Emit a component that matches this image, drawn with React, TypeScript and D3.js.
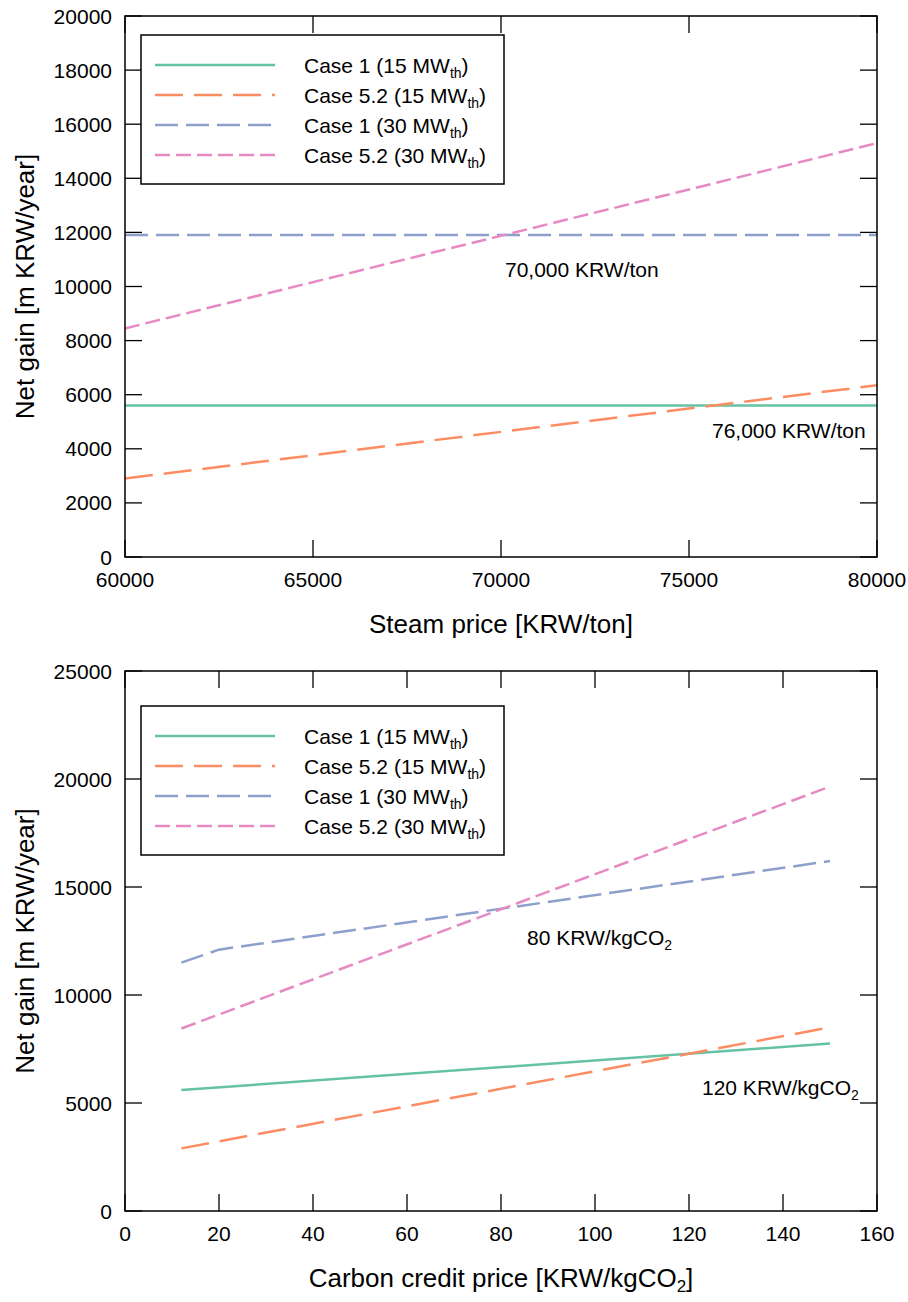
import React from 'react';
import * as d3 from 'd3';

// top panel: steam price sensitivity
const steamX = [60000, 80000];
const steamCase1_15 = [5600, 5600];
const steamCase52_15 = [2900, 6350];
const steamCase1_30 = [11900, 11900];
const steamCase52_30 = [8450, 15300];
const steamXTicks = [60000, 65000, 70000, 75000, 80000];
const steamYTicks = [0, 2000, 4000, 6000, 8000, 10000, 12000, 14000, 16000, 18000, 20000];

// bottom panel: carbon credit price sensitivity
const carbonX = [12, 150];
const carbonCase1_15 = [5600, 7750];
const carbonCase52_15 = [2900, 8500];
const carbonX30 = [12, 20, 150];
const carbonCase1_30 = [11500, 12100, 16200];
const carbonCase52_30 = [8450, 19650];
const carbonXTicks = [0, 20, 40, 60, 80, 100, 120, 140, 160];
const carbonYTicks = [0, 5000, 10000, 15000, 20000, 25000];

const seriesNames = ['Case 1 (15 MW', 'Case 5.2 (15 MW', 'Case 1 (30 MW', 'Case 5.2 (30 MW'];
const colors = ['#66c2a5', '#fc8d62', '#8da0cb', '#e78ac3'];
const dashes = ['none', '28,11', '23,8', '15,6'];

const FONT = 'Liberation Sans, Arial, sans-serif';

type Series = { xs: number[]; ys: number[] };

const Panel = ({ top, bottom, xDomain, yDomain, xTicks, yTicks, series, xLabel, notes, legendTop }: {
  top: number; bottom: number; xDomain: [number, number]; yDomain: [number, number];
  xTicks: number[]; yTicks: number[]; series: Series[]; xLabel: React.ReactNode;
  notes: { x: number; y: number; text: React.ReactNode }[]; legendTop: number;
}) => {
  const left = 125, right = 877;
  const x = d3.scaleLinear().domain(xDomain).range([left, right]);
  const y = d3.scaleLinear().domain(yDomain).range([bottom, top]);
  const tick = 17;
  return (
    <g fontFamily={FONT}>
      {series.map((s, i) => {
        const line = d3.line<number>().x((_, j) => x(s.xs[j])).y(d => y(d));
        return <path key={i} d={line(s.ys) || ''} fill="none" stroke={colors[i]} strokeWidth={2.5}
          strokeDasharray={dashes[i]} />;
      })}
      <rect x={left} y={top} width={right - left} height={bottom - top} fill="none" stroke="#000" strokeWidth={1.5} />
      {xTicks.map(t => (
        <g key={t}>
          <line x1={x(t)} x2={x(t)} y1={bottom} y2={bottom - tick} stroke="#000" strokeWidth={1.3} />
          <line x1={x(t)} x2={x(t)} y1={top} y2={top + tick} stroke="#000" strokeWidth={1.3} />
          <text x={x(t)} y={bottom + 30} textAnchor="middle" fontSize={21}>{t}</text>
        </g>
      ))}
      {yTicks.map(t => (
        <g key={t}>
          <line x1={left} x2={left + tick} y1={y(t)} y2={y(t)} stroke="#000" strokeWidth={1.3} />
          <line x1={right} x2={right - tick} y1={y(t)} y2={y(t)} stroke="#000" strokeWidth={1.3} />
          <text x={112} y={y(t) + 7.5} textAnchor="end" fontSize={21}>{t}</text>
        </g>
      ))}
      <text transform={`translate(34,${(top + bottom) / 2}) rotate(-90)`} textAnchor="middle" fontSize={26}>
        Net gain [m KRW/year]
      </text>
      <text x={(left + right) / 2} y={bottom + 76} textAnchor="middle" fontSize={26}>{xLabel}</text>
      {notes.map((n, i) => (
        <text key={i} x={n.x} y={n.y} fontSize={21}>{n.text}</text>
      ))}
      <g transform={`translate(141,${legendTop})`}>
        <rect x={0} y={0} width={363} height={149} fill="#fff" stroke="#000" strokeWidth={1.5} />
        {seriesNames.map((name, i) => (
          <g key={i} transform={`translate(0,${30 + i * 30})`}>
            <line x1={14} x2={134} y1={0} y2={0} stroke={colors[i]} strokeWidth={2.5} strokeDasharray={dashes[i]} />
            <text x={163} y={7.5} fontSize={21}>
              {name}<tspan dy={5} fontSize={14}>th</tspan><tspan dy={-5}>)</tspan>
            </text>
          </g>
        ))}
      </g>
    </g>
  );
};

const co2 = (pre: string) => (
  <>{pre}CO<tspan dy={5} fontSize={14}>2</tspan></>
);

export default function App() {
  return (
    <svg width={908} height={1302} style={{ position: 'absolute', left: 0, top: 0, background: '#fff' }}>
      <rect width={908} height={1302} fill="#fff" />
      <Panel top={16} bottom={557} xDomain={[60000, 80000]} yDomain={[0, 20000]}
        xTicks={steamXTicks} yTicks={steamYTicks}
        series={[
          { xs: steamX, ys: steamCase1_15 },
          { xs: steamX, ys: steamCase52_15 },
          { xs: steamX, ys: steamCase1_30 },
          { xs: steamX, ys: steamCase52_30 },
        ]}
        xLabel="Steam price [KRW/ton]"
        notes={[
          { x: 505, y: 277, text: '70,000 KRW/ton' },
          { x: 712, y: 438, text: '76,000 KRW/ton' },
        ]}
        legendTop={35}
      />
      <Panel top={671} bottom={1211} xDomain={[0, 160]} yDomain={[0, 25000]}
        xTicks={carbonXTicks} yTicks={carbonYTicks}
        series={[
          { xs: carbonX, ys: carbonCase1_15 },
          { xs: carbonX, ys: carbonCase52_15 },
          { xs: carbonX30, ys: carbonCase1_30 },
          { xs: carbonX, ys: carbonCase52_30 },
        ]}
        xLabel={<>Carbon credit price [KRW/kgCO<tspan dy={5} fontSize={17}>2</tspan><tspan dy={-5}>]</tspan></>}
        notes={[
          { x: 527, y: 945, text: co2('80 KRW/kg') },
          { x: 702, y: 1095, text: co2('120 KRW/kg') },
        ]}
        legendTop={706}
      />
    </svg>
  );
}
